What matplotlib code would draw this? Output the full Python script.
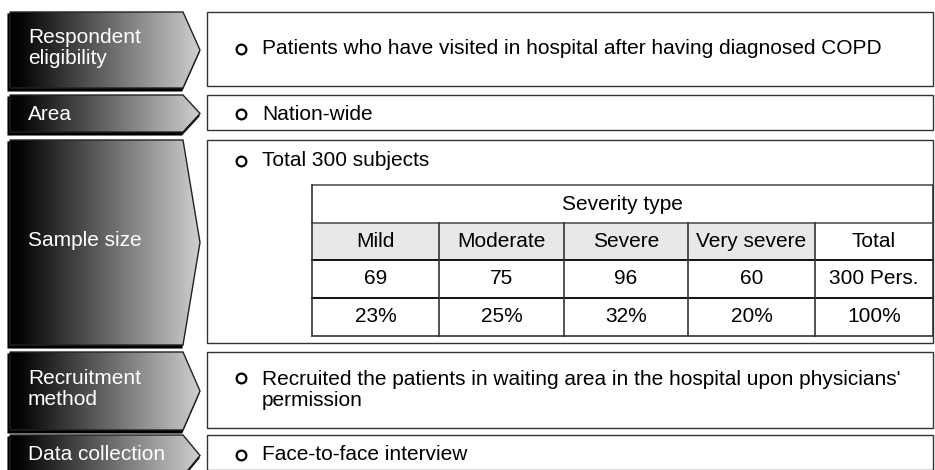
import numpy as np
import matplotlib
matplotlib.use("Agg")
import matplotlib.pyplot as plt
from matplotlib.patches import Polygon, Rectangle
from matplotlib.colors import LinearSegmentedColormap

plt.rcParams['font.family'] = ['Liberation Sans', 'DejaVu Sans']

# ==== data ====
row_labels = ["Respondent\neligibility", "Area", "Sample size", "Recruitment\nmethod", "Data collection"]
row_texts = [
    "Patients who have visited in hospital after having diagnosed COPD",
    "Nation-wide",
    "Total 300 subjects",
    "Recruited the patients in waiting area in the hospital upon physicians'\npermission",
    "Face-to-face interview",
]
table_title = "Severity type"
severity_types = ["Mild", "Moderate", "Severe", "Very severe", "Total"]
severity_counts = ["69", "75", "96", "60", "300 Pers."]
severity_shares = ["23%", "25%", "32%", "20%", "100%"]

# ==== layout (pixel coordinates) ====
row_top = [12, 95, 140, 352, 435]
row_bot = [88, 132, 345, 430, 476]
x_left, x_flat, x_tip = 10, 183, 200
box_left, box_right = 207, 933
fs = 15

fig = plt.figure(figsize=(9.35, 4.7), dpi=100)
ax = fig.add_axes([0, 0, 1, 1])
ax.set_xlim(0, 935)
ax.set_ylim(470, 0)
ax.axis("off")

cmap = LinearSegmentedColormap.from_list("grad", [(0, "#000000"), (0.07, "#080808"), (1, "#cfcfcf")])
grad = np.linspace(0, 1, 256).reshape(1, -1)

label_y = [48, 114, 241, 389, 454]
for i, label in enumerate(row_labels):
    t, b = row_top[i], row_bot[i]
    mid = (t + b) / 2
    pts = [(x_left, t), (x_flat, t), (x_tip, mid), (x_flat, b), (x_left, b)]
    # shadow
    shadow = Polygon([(x - 1.5, y + 2.5) for x, y in pts], closed=True, fc="black", ec="black", lw=1.5, zorder=1)
    ax.add_patch(shadow)
    poly = Polygon(pts, closed=True, fc="none", ec="#222222", lw=1.0, zorder=3)
    ax.add_patch(poly)
    im = ax.imshow(grad, cmap=cmap, extent=(x_left, x_tip, b, t), aspect="auto", zorder=2,
                   interpolation="bicubic")
    im.set_clip_path(poly)
    ax.text(28, label_y[i], label, color="white", fontsize=fs, ha="left", va="center",
            linespacing=1.15, zorder=4)

    # right box
    ax.add_patch(Rectangle((box_left, t), box_right - box_left, min(b, 472) - t - 2,
                           fc="white", ec="#333333", lw=1.0, zorder=2))

# bullet texts
text_y = [49, 114, 161, 390, 455]
for i, txt in enumerate(row_texts):
    y = text_y[i]
    first_y = y - 12 if "\n" in txt else y
    ax.plot(241, first_y, marker="o", ms=7, mfc="white", mec="black", mew=1.6, zorder=5)
    ax.text(262, y, txt, fontsize=fs, ha="left", va="center", linespacing=1.15, zorder=5)

# ==== table ====
col_x = [312, 439, 564, 688, 815, 933]
tab_y = [185, 223, 260, 298, 336]

ax.add_patch(Rectangle((col_x[0], tab_y[1]), col_x[4] - col_x[0], tab_y[2] - tab_y[1],
                       fc="#e8e8e8", ec="none", zorder=3))
ax.text((col_x[0] + col_x[-1]) / 2, (tab_y[0] + tab_y[1]) / 2, table_title,
        fontsize=fs, ha="center", va="center", zorder=5)

for r, row in enumerate([severity_types, severity_counts, severity_shares]):
    yc = (tab_y[r + 1] + tab_y[r + 2]) / 2
    for c, val in enumerate(row):
        xc = (col_x[c] + col_x[c + 1]) / 2
        ax.text(xc, yc, val, fontsize=fs, ha="center", va="center", zorder=5)

# table lines
ax.plot([col_x[0], col_x[-1]], [tab_y[0], tab_y[0]], color="#555555", lw=1.2, zorder=4)
ax.plot([col_x[0], col_x[-1]], [tab_y[1], tab_y[1]], color="#555555", lw=1.2, zorder=4)
ax.plot([col_x[0], col_x[-1]], [tab_y[2], tab_y[2]], color="#111111", lw=1.4, zorder=4)
ax.plot([col_x[0], col_x[-1]], [tab_y[3], tab_y[3]], color="#111111", lw=1.4, zorder=4)
ax.plot([col_x[0], col_x[-1]], [tab_y[4], tab_y[4]], color="#333333", lw=1.2, zorder=4)
ax.plot([col_x[0], col_x[0]], [tab_y[0], tab_y[4]], color="#333333", lw=1.2, zorder=4)
ax.plot([col_x[-1], col_x[-1]], [tab_y[0], tab_y[4]], color="#333333", lw=1.2, zorder=4)
for x in col_x[1:-1]:
    ax.plot([x, x], [tab_y[1], tab_y[4]], color="#333333", lw=1.2, zorder=4)

fig.savefig("out.png", dpi=100, facecolor="white")
